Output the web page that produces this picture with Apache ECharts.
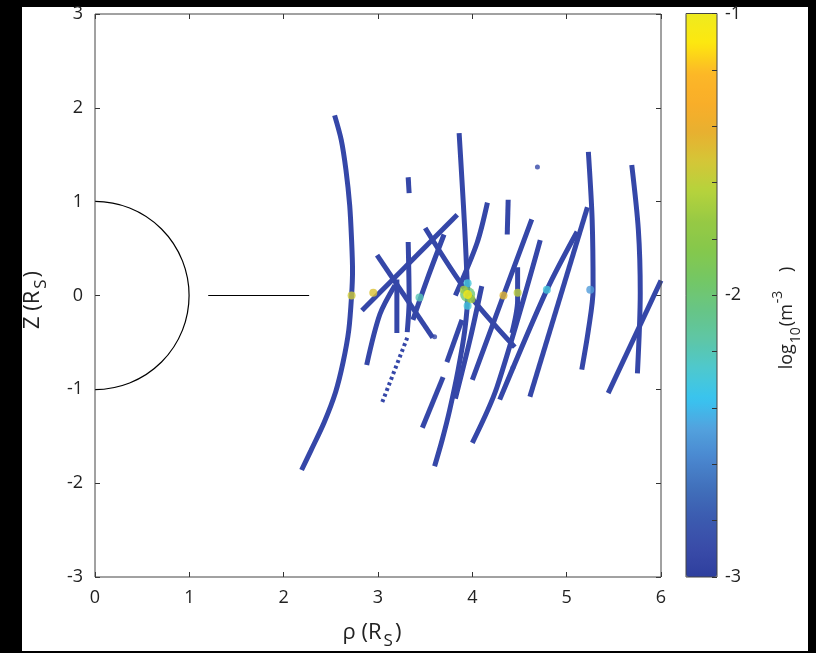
<!DOCTYPE html>
<html>
<head>
<meta charset="utf-8">
<title>rho-Z tracks</title>
<script src="https://cdn.jsdelivr.net/npm/echarts@6/dist/echarts.min.js"></script>
<style>html,body{margin:0;padding:0;background:#000;}</style>
</head>
<body>
<div id="main" style="width:816px;height:653px"></div>
<script type="text/javascript">
// axis ticks
var xTicks = [0, 1, 2, 3, 4, 5, 6];
var yTicks = [-3, -2, -1, 0, 1, 2, 3];
var cbTicks = [-3, -2, -1];

// particle tracks, [rho, z] in R_S
var tracks = [
  [[2.54,1.92],[2.61,1.66],[2.66,1.34],[2.70,0.96],[2.72,0.59],[2.73,0.27],[2.72,0.0],[2.69,-0.37],[2.63,-0.71],[2.55,-1.03],[2.43,-1.35],[2.29,-1.65],[2.19,-1.86]],
  [[3.32,1.26],[3.33,1.09]],
  [[3.32,0.57],[3.33,-0.05],[3.31,-0.39]],
  [[2.99,0.43],[3.58,-0.45]],
  [[2.83,-0.16],[3.84,0.86]],
  [[3.86,1.73],[3.89,1.23],[3.92,0.70],[3.94,0.27],[3.95,0.0],[3.92,-0.37],[3.85,-0.79],[3.76,-1.22],[3.68,-1.54],[3.60,-1.82]],
  [[3.50,0.72],[3.95,0.03],[4.45,-0.55]],
  [[3.47,-1.41],[3.69,-0.87]],
  [[5.23,1.53],[5.27,0.81],[5.28,0.06],[5.23,-0.37],[5.16,-0.79]],
  [[5.69,1.39],[5.76,0.70],[5.78,0.03],[5.75,-0.83]],
  [[5.44,-1.04],[6.0,0.16]],
  [[5.11,0.68],[4.79,0.06],[4.29,-1.11]],
  [[4.16,0.99],[4.05,0.56],[3.82,0.0]],
  [[4.38,1.02],[4.37,0.65]],
  [[4.63,0.81],[4.33,0.0],[4.00,-0.90]],
  [[4.00,-1.57],[4.26,-0.98],[4.72,0.59]],
  [[5.22,0.94],[4.61,-1.08]],
  [[3.20,0.17],[3.20,-0.40]],
  [[3.37,-0.26],[3.52,0.17],[3.70,0.65]],
  [[2.88,-0.74],[3.02,-0.20],[3.18,0.11]],
  [[3.73,-0.71],[3.89,-0.26]],
  [[3.82,-1.10],[3.98,-0.45],[4.10,0.10]],
  [[4.48,0.30],[4.48,-0.05],[4.42,-0.40]]
];
var dottedTrack = [[3.31,-0.45],[3.04,-1.15]];
var strayPoints = [[4.69,1.37],[4.43,-0.77],[3.60,-0.44]];

// density along the tracks near the equator, [rho, z, log10 n]
var hotSpots = [
  [3.95,0.01,-2.0],
  [2.72,0.0,-1.55],[2.95,0.03,-1.5],[3.44,-0.02,-2.2],
  [3.95,0.13,-2.3],[3.95,-0.11,-2.3],[3.91,0.06,-1.7],[3.99,-0.04,-1.7],
  [4.33,0.0,-1.45],[4.48,0.03,-1.6],[4.79,0.06,-2.3],[5.25,0.06,-2.5],
  [3.95,0.01,-1.05]
];

var ringLine = [[1.2, 0], [2.27, 0]];
var planet = [[0, 0, 1]];

var cbColors = ['#2e3f9e','#3a4ca8','#3b5bb0','#4170bb','#4a87cf','#52a2de','#38c4f0','#4dc8cf',
  '#5ec6a6','#67c586','#74c765','#85c84c','#97c944','#b5d33c','#d4c637','#e8b030','#f9ae29',
  '#fcb827','#fde80f','#eeea1f'];

var trackColor = '#3547a8';
var fontFam = '"Open Sans", sans-serif';

var myChart = echarts.init(document.getElementById('main'));

var series = [{
  type: 'scatter',
  data: hotSpots,
  symbolSize: function (v, p) {
    if (p.dataIndex === 0) return 15;
    return v[2] > -1.2 ? 9 : 8;
  },
  z: 5,
  silent: true
}];
tracks.forEach(function (t) {
  series.push({
    type: 'line', data: t, showSymbol: false, smooth: 0.3, silent: true,
    lineStyle: {width: 5, color: trackColor}, z: 3
  });
});
series.push({
  type: 'line', data: dottedTrack, showSymbol: false, silent: true,
  lineStyle: {width: 4, color: trackColor, type: [3, 3]}, z: 3
});
series.push({
  type: 'scatter', data: strayPoints, symbolSize: 5, silent: true,
  itemStyle: {color: trackColor}, z: 3
});
series.push({
  type: 'line', data: ringLine, showSymbol: false, silent: true,
  lineStyle: {width: 1.2, color: '#000'}, z: 3
});
series.push({
  type: 'custom', data: planet, silent: true, z: 3,
  renderItem: function (params, api) {
    var c = api.coord([api.value(0), api.value(1)]);
    var r = api.size([api.value(2), api.value(2)]);
    return {
      type: 'arc',
      shape: {cx: c[0], cy: c[1], r: (r[0] + r[1]) / 2, startAngle: -Math.PI / 2, endAngle: Math.PI / 2, clockwise: true},
      style: {stroke: '#000', lineWidth: 1.2, fill: null}
    };
  }
});

var labelStyle = {color: '#222', fontSize: 18, fontFamily: fontFam};
var tick = {inside: true, length: 5, lineStyle: {color: '#333'}};
var noLine = {show: false, onZero: false};
var titleRich = {
  a: {fontSize: 22, fontFamily: fontFam, fill: '#222', lineHeight: 34},
  b: {fontSize: 17, fontFamily: fontFam, fill: '#222', lineHeight: 18, verticalAlign: 'bottom', padding: [0, 2, 0, 2]}
};

option = {
  backgroundColor: '#000',
  animation: false,
  graphic: [
    {type: 'rect', z: -10, shape: {x: 22, y: 7, width: 786, height: 644}, style: {fill: '#fff'}},
    {type: 'text', x: 33, y: 300, rotation: Math.PI / 2,
      style: {text: '{a|Z (R}{b|S}{a|)}', align: 'center', verticalAlign: 'middle', fill: '#222', rich: titleRich}},
    {type: 'text', x: 372, y: 633,
      style: {text: '{a|\u03c1 (R}{b|S}{a|)}', align: 'center', verticalAlign: 'middle', fill: '#222', rich: titleRich}},
    {type: 'text', x: 787, y: 318, rotation: Math.PI / 2,
      style: {text: '{a|log}{b|10}{a|(m}{c|-3}{a|    )}', align: 'center', verticalAlign: 'middle', fill: '#222',
        rich: {a: {fontSize: 18, fontFamily: fontFam, fill: '#222', lineHeight: 32},
               b: {fontSize: 14, fontFamily: fontFam, fill: '#222', lineHeight: 15, verticalAlign: 'bottom', padding: [0, 1, 0, 1]},
               c: {fontSize: 14, fontFamily: fontFam, fill: '#222', lineHeight: 15, verticalAlign: 'top', padding: [0, 0, 0, 1]}}}}
  ],
  grid: [
    {left: 95, top: 14, width: 566, height: 563, show: true, borderColor: '#444', borderWidth: 1, z: 6},
    {left: 686, top: 13.5, width: 31, height: 563.5, show: true, borderColor: '#444', borderWidth: 1, z: 6}
  ],
  xAxis: [
    {type: 'value', gridIndex: 0, min: 0, max: 6, interval: 1, position: 'bottom',
      axisLine: noLine, splitLine: {show: false}, axisTick: tick,
      axisLabel: Object.assign({margin: 12, formatter: function (v) { return xTicks.indexOf(v) >= 0 ? v : ''; }}, labelStyle)},
    {type: 'value', gridIndex: 0, min: 0, max: 6, interval: 1, position: 'top',
      axisLine: noLine, splitLine: {show: false}, axisLabel: {show: false}, axisTick: tick},
    {type: 'value', gridIndex: 1, min: 0, max: 1, show: false}
  ],
  yAxis: [
    {type: 'value', gridIndex: 0, min: -3, max: 3, interval: 1, position: 'left',
      axisLine: noLine, splitLine: {show: false}, axisTick: tick,
      axisLabel: Object.assign({margin: 12, formatter: function (v) { return yTicks.indexOf(v) >= 0 ? v : ''; }}, labelStyle)},
    {type: 'value', gridIndex: 0, min: -3, max: 3, interval: 1, position: 'right',
      axisLine: noLine, splitLine: {show: false}, axisLabel: {show: false}, axisTick: tick},
    {type: 'value', gridIndex: 1, min: -3, max: -1, interval: 0.2, position: 'right', z: 10,
      axisLine: noLine, splitLine: {show: false}, axisTick: tick,
      axisLabel: Object.assign({margin: 8, formatter: function (v) {
        var r = Math.round(v * 10) / 10;
        return cbTicks.indexOf(r) >= 0 ? String(r) : '';
      }}, labelStyle)}
  ],
  visualMap: {
    type: 'continuous', min: -3, max: -1, dimension: 2, seriesIndex: 0,
    left: 686, top: 13.5, itemWidth: 31, itemHeight: 563.5, padding: 0,
    calculable: false, text: null, hoverLink: false,
    inRange: {color: cbColors}
  },
  series: series
};

myChart.setOption(option);
</script>
</body>
</html>
